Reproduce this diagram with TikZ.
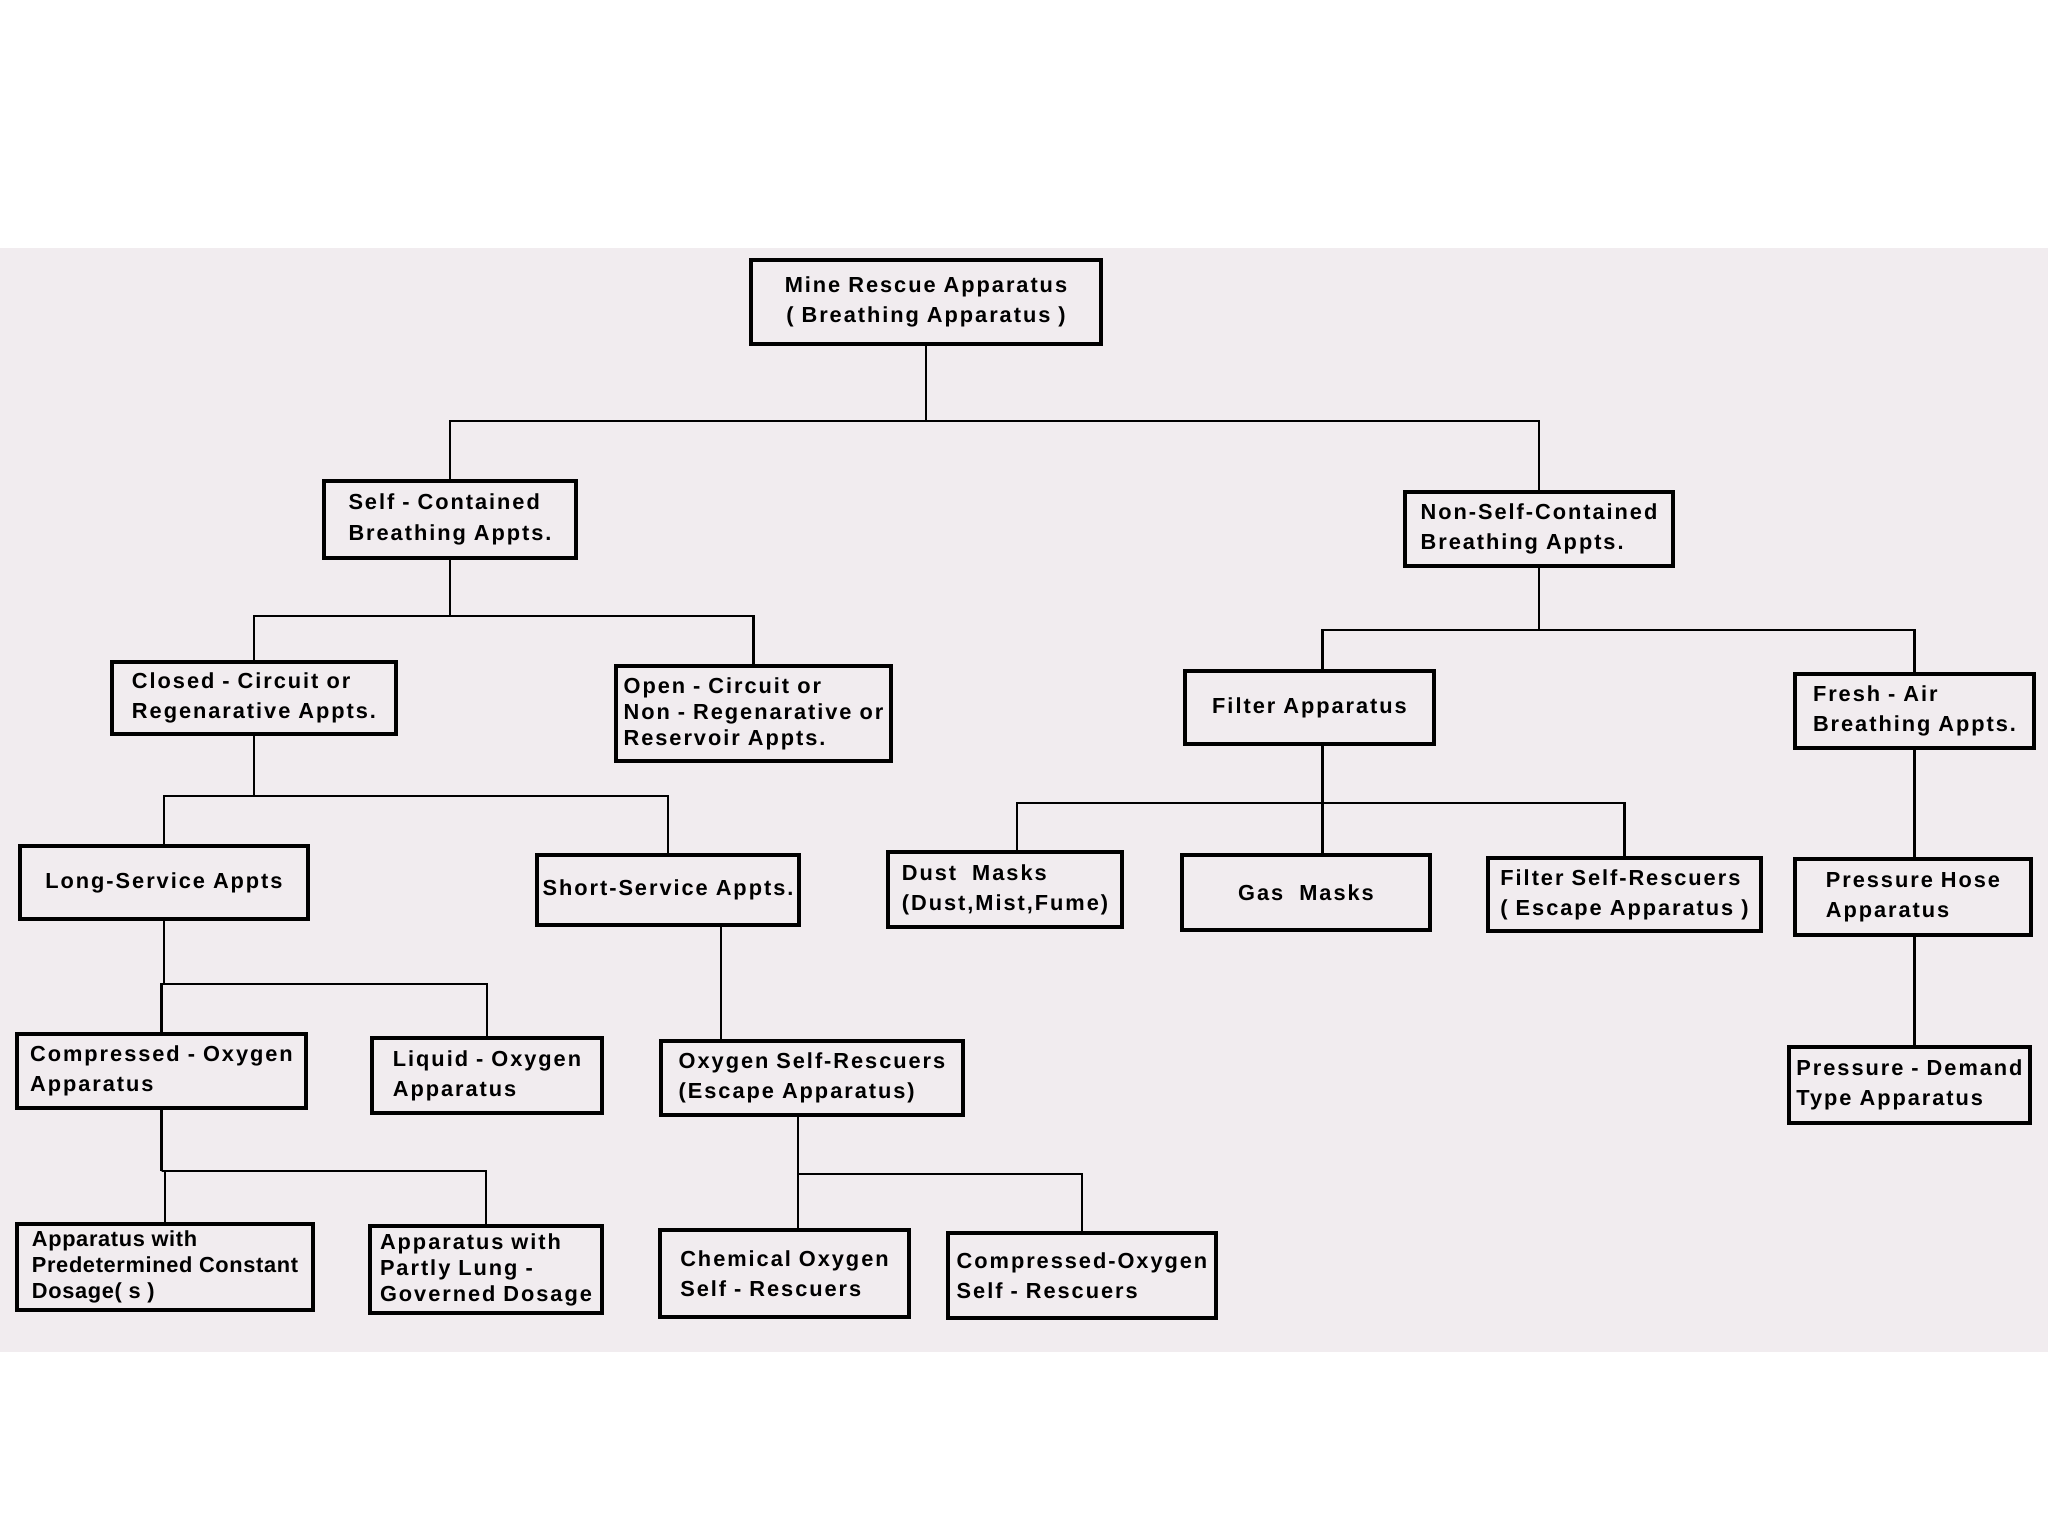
\documentclass[tikz,border=0pt]{standalone}
\usepackage{fontspec}
\setmainfont{Liberation Sans}[LetterSpace=9]
\usepackage{tikz}
\usepackage{xcolor}
\definecolor{paper}{RGB}{241,236,239}

\begin{document}
\begin{tikzpicture}[
  box/.style={draw, line width=1.1pt, align=left, inner xsep=1.5pt, inner ysep=1pt,
    font=\bfseries\fontsize{6.2}{8.6}\selectfont},
  tight/.style={font=\bfseries\fontsize{6.2}{7.4}\selectfont},
  cramped/.style={font=\bfseries\fontsize{6.2}{7.4}\selectfont\addfontfeature{LetterSpace=3}},
  link/.style={line width=0.7pt}]
  % page
  \useasboundingbox (0,0) rectangle (20.48,-15.36);
  \fill[paper] (0,-2.48) rectangle (20.48,-13.52);

  % top
  \node[box, align=center, minimum width=3.50cm, minimum height=0.84cm] (rescue) at (9.26,-3.02) {Mine Rescue Apparatus\\( Breathing Apparatus )};

  % self-contained / non-self-contained
  \node[box, minimum width=2.52cm, minimum height=0.77cm] (selfc) at (4.50,-5.195) {Self - Contained\\Breathing Appts.};
  \node[box, minimum width=2.68cm, minimum height=0.74cm] (nonself) at (15.39,-5.29) {Non-Self-Contained\\Breathing Appts.};

  % circuit types
  \node[box, minimum width=2.84cm, minimum height=0.72cm] (closed) at (2.54,-6.98) {Closed - Circuit or\\Regenarative Appts.};
  \node[box, tight, minimum width=2.75cm, minimum height=0.95cm] (open) at (7.535,-7.135) {Open - Circuit or\\Non - Regenarative or\\Reservoir Appts.};
  \node[box, minimum width=2.49cm, minimum height=0.73cm] (filter) at (13.095,-7.075) {Filter Apparatus};
  \node[box, minimum width=2.39cm, minimum height=0.74cm] (fresh) at (19.145,-7.11) {Fresh - Air\\Breathing Appts.};

  % service length, masks, hose
  \node[box, minimum width=2.88cm, minimum height=0.73cm] (longs) at (1.64,-8.825) {Long-Service Appts};
  \node[box, minimum width=2.62cm, minimum height=0.70cm] (shorts) at (6.68,-8.90) {Short-Service Appts.};
  \node[box, minimum width=2.34cm, minimum height=0.75cm] (dust) at (10.05,-8.895) {Dust~~Masks\\(Dust,Mist,Fume)};
  \node[box, align=center, minimum width=2.48cm, minimum height=0.75cm] (gas) at (13.06,-8.925) {Gas~~Masks};
  \node[box, minimum width=2.73cm, minimum height=0.73cm] (filtersr) at (16.245,-8.945) {Filter Self-Rescuers\\( Escape Apparatus )};
  \node[box, minimum width=2.36cm, minimum height=0.76cm] (hose) at (19.13,-8.97) {Pressure Hose\\Apparatus};
  \node[box, minimum width=2.41cm, minimum height=0.76cm] (demand) at (19.095,-10.85) {Pressure - Demand\\Type Apparatus};

  % oxygen supply
  \node[box, minimum width=2.89cm, minimum height=0.74cm] (compox) at (1.615,-10.71) {Compressed - Oxygen\\Apparatus};
  \node[box, minimum width=2.30cm, minimum height=0.75cm] (liquid) at (4.87,-10.755) {Liquid - Oxygen\\Apparatus};
  \node[box, minimum width=3.02cm, minimum height=0.74cm] (oxysr) at (8.12,-10.78) {Oxygen Self-Rescuers\\(Escape Apparatus)};

  % bottom row
  \node[box, cramped, minimum width=2.96cm, minimum height=0.86cm] (predet) at (1.65,-12.67) {Apparatus with\\Predetermined Constant\\Dosage( s )};
  \node[box, tight, minimum width=2.32cm, minimum height=0.87cm] (lung) at (4.86,-12.695) {Apparatus with\\Partly Lung -\\Governed Dosage};
  \node[box, minimum width=2.49cm, minimum height=0.87cm] (chem) at (7.845,-12.735) {Chemical Oxygen\\Self - Rescuers};
  \node[box, minimum width=2.68cm, minimum height=0.85cm] (compsr) at (10.82,-12.755) {Compressed-Oxygen\\Self - Rescuers};

  % links
  \draw[link] (rescue.south) -- ++(0,-0.75) coordinate (j1);
  \draw[link] (selfc.north) |- (j1) -| (nonself.north);
  \draw[link] (selfc.south) -- ++(0,-0.56) coordinate (j2a);
  \draw[link] (closed.north) |- (j2a) -| (open.north);
  \draw[link] (nonself.south) -- ++(0,-0.62) coordinate (j2b);
  \draw[link] ([xshift=1.3mm]filter.north) |- (j2b) -| (fresh.north);
  \draw[link] (closed.south) -- ++(0,-0.60) coordinate (j3a);
  \draw[link] (longs.north) |- (j3a) -| (shorts.north);
  \draw[link] ([xshift=1.3mm]filter.south) -- ++(0,-0.57) coordinate (j3b) -- (j3b |- gas.north);
  \draw[link] ([xshift=1.2mm]dust.north) |- (j3b) -| (filtersr.north);
  \draw[link] (fresh.south) -- (fresh.south |- hose.north);
  \draw[link] (fresh.south |- hose.south) -- (fresh.south |- demand.north);
  \draw[link] (longs.south) -- ++(0,-0.63) coordinate (j4);
  \draw[link] (compox.north) |- (j4) -| (liquid.north);
  \draw[link] ([xshift=5.3mm]shorts.south) -- ([xshift=5.3mm]shorts.south |- oxysr.north);
  \draw[link] (compox.south) -- ++(0,-0.61) coordinate (j5a);
  \draw[link] (predet.north) |- (j5a) -| (lung.north);
  \draw[link] ([xshift=-1.4mm]oxysr.south) -- ++(0,-0.57) coordinate (j5b);
  \draw[link] ([xshift=1.35mm]chem.north) |- (j5b) -| (compsr.north);
\end{tikzpicture}
\end{document}
